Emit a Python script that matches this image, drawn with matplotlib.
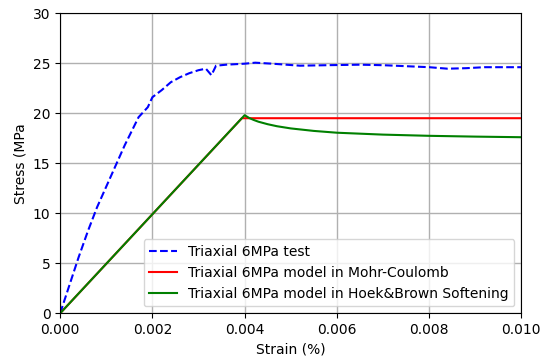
import matplotlib
matplotlib.use('Agg')
import matplotlib.pyplot as plt
import numpy as np

# triaxial test, 6 MPa confinement
test_strain = [0.0, 0.0002, 0.0004, 0.0006, 0.0008, 0.0011, 0.0014, 0.0017, 0.0019, 0.0020,
               0.0022, 0.0024, 0.0026, 0.0028, 0.0030, 0.00316, 0.00328, 0.00338, 0.0036,
               0.0040, 0.00423, 0.0046, 0.0052, 0.0058, 0.0065, 0.0070, 0.0075, 0.0080,
               0.0084, 0.0088, 0.0092, 0.0096, 0.0100]
test_stress = [0.0, 2.8, 5.6, 8.2, 10.6, 13.7, 16.8, 19.6, 20.6, 21.6,
               22.3, 23.1, 23.6, 24.0, 24.3, 24.45, 23.8, 24.75, 24.85,
               24.95, 25.05, 24.95, 24.75, 24.8, 24.85, 24.8, 24.7, 24.6,
               24.45, 24.5, 24.6, 24.6, 24.6]

mc_strain = [0.0, 0.00394, 0.010]
mc_stress = [0.0, 19.5, 19.5]

hb_strain = [0.0, 0.004, 0.0041, 0.0042, 0.0043, 0.0045, 0.0047, 0.005, 0.0055,
             0.006, 0.007, 0.008, 0.009, 0.010]
hb_stress = [0.0, 19.8, 19.52, 19.32, 19.15, 18.9, 18.7, 18.48, 18.23,
             18.05, 17.86, 17.74, 17.66, 17.6]

fig, ax = plt.subplots(figsize=(5.47, 3.56), dpi=100)
ax.plot(test_strain, test_stress, 'b--', lw=1.5, label='Triaxial 6MPa test')
ax.plot(mc_strain, mc_stress, 'r-', lw=1.5, label='Triaxial 6MPa model in Mohr-Coulomb')
ax.plot(hb_strain, hb_stress, 'g-', lw=1.5, label='Triaxial 6MPa model in Hoek&Brown Softening')

ax.set_xlim(0, 0.010)
ax.set_ylim(0, 30)
ax.set_xticks(np.arange(0, 0.0101, 0.002))
ax.set_xticklabels(['0.000', '0.002', '0.004', '0.006', '0.008', '0.010'])
ax.grid(True, color='#b0b0b0', lw=1)
ax.set_xlabel('Strain (%)')
ax.set_ylabel('Stress (MPa')
ax.legend(loc='lower right')

fig.subplots_adjust(left=0.11, right=0.953, top=0.963, bottom=0.12)
fig.savefig('out.png', dpi=100)
